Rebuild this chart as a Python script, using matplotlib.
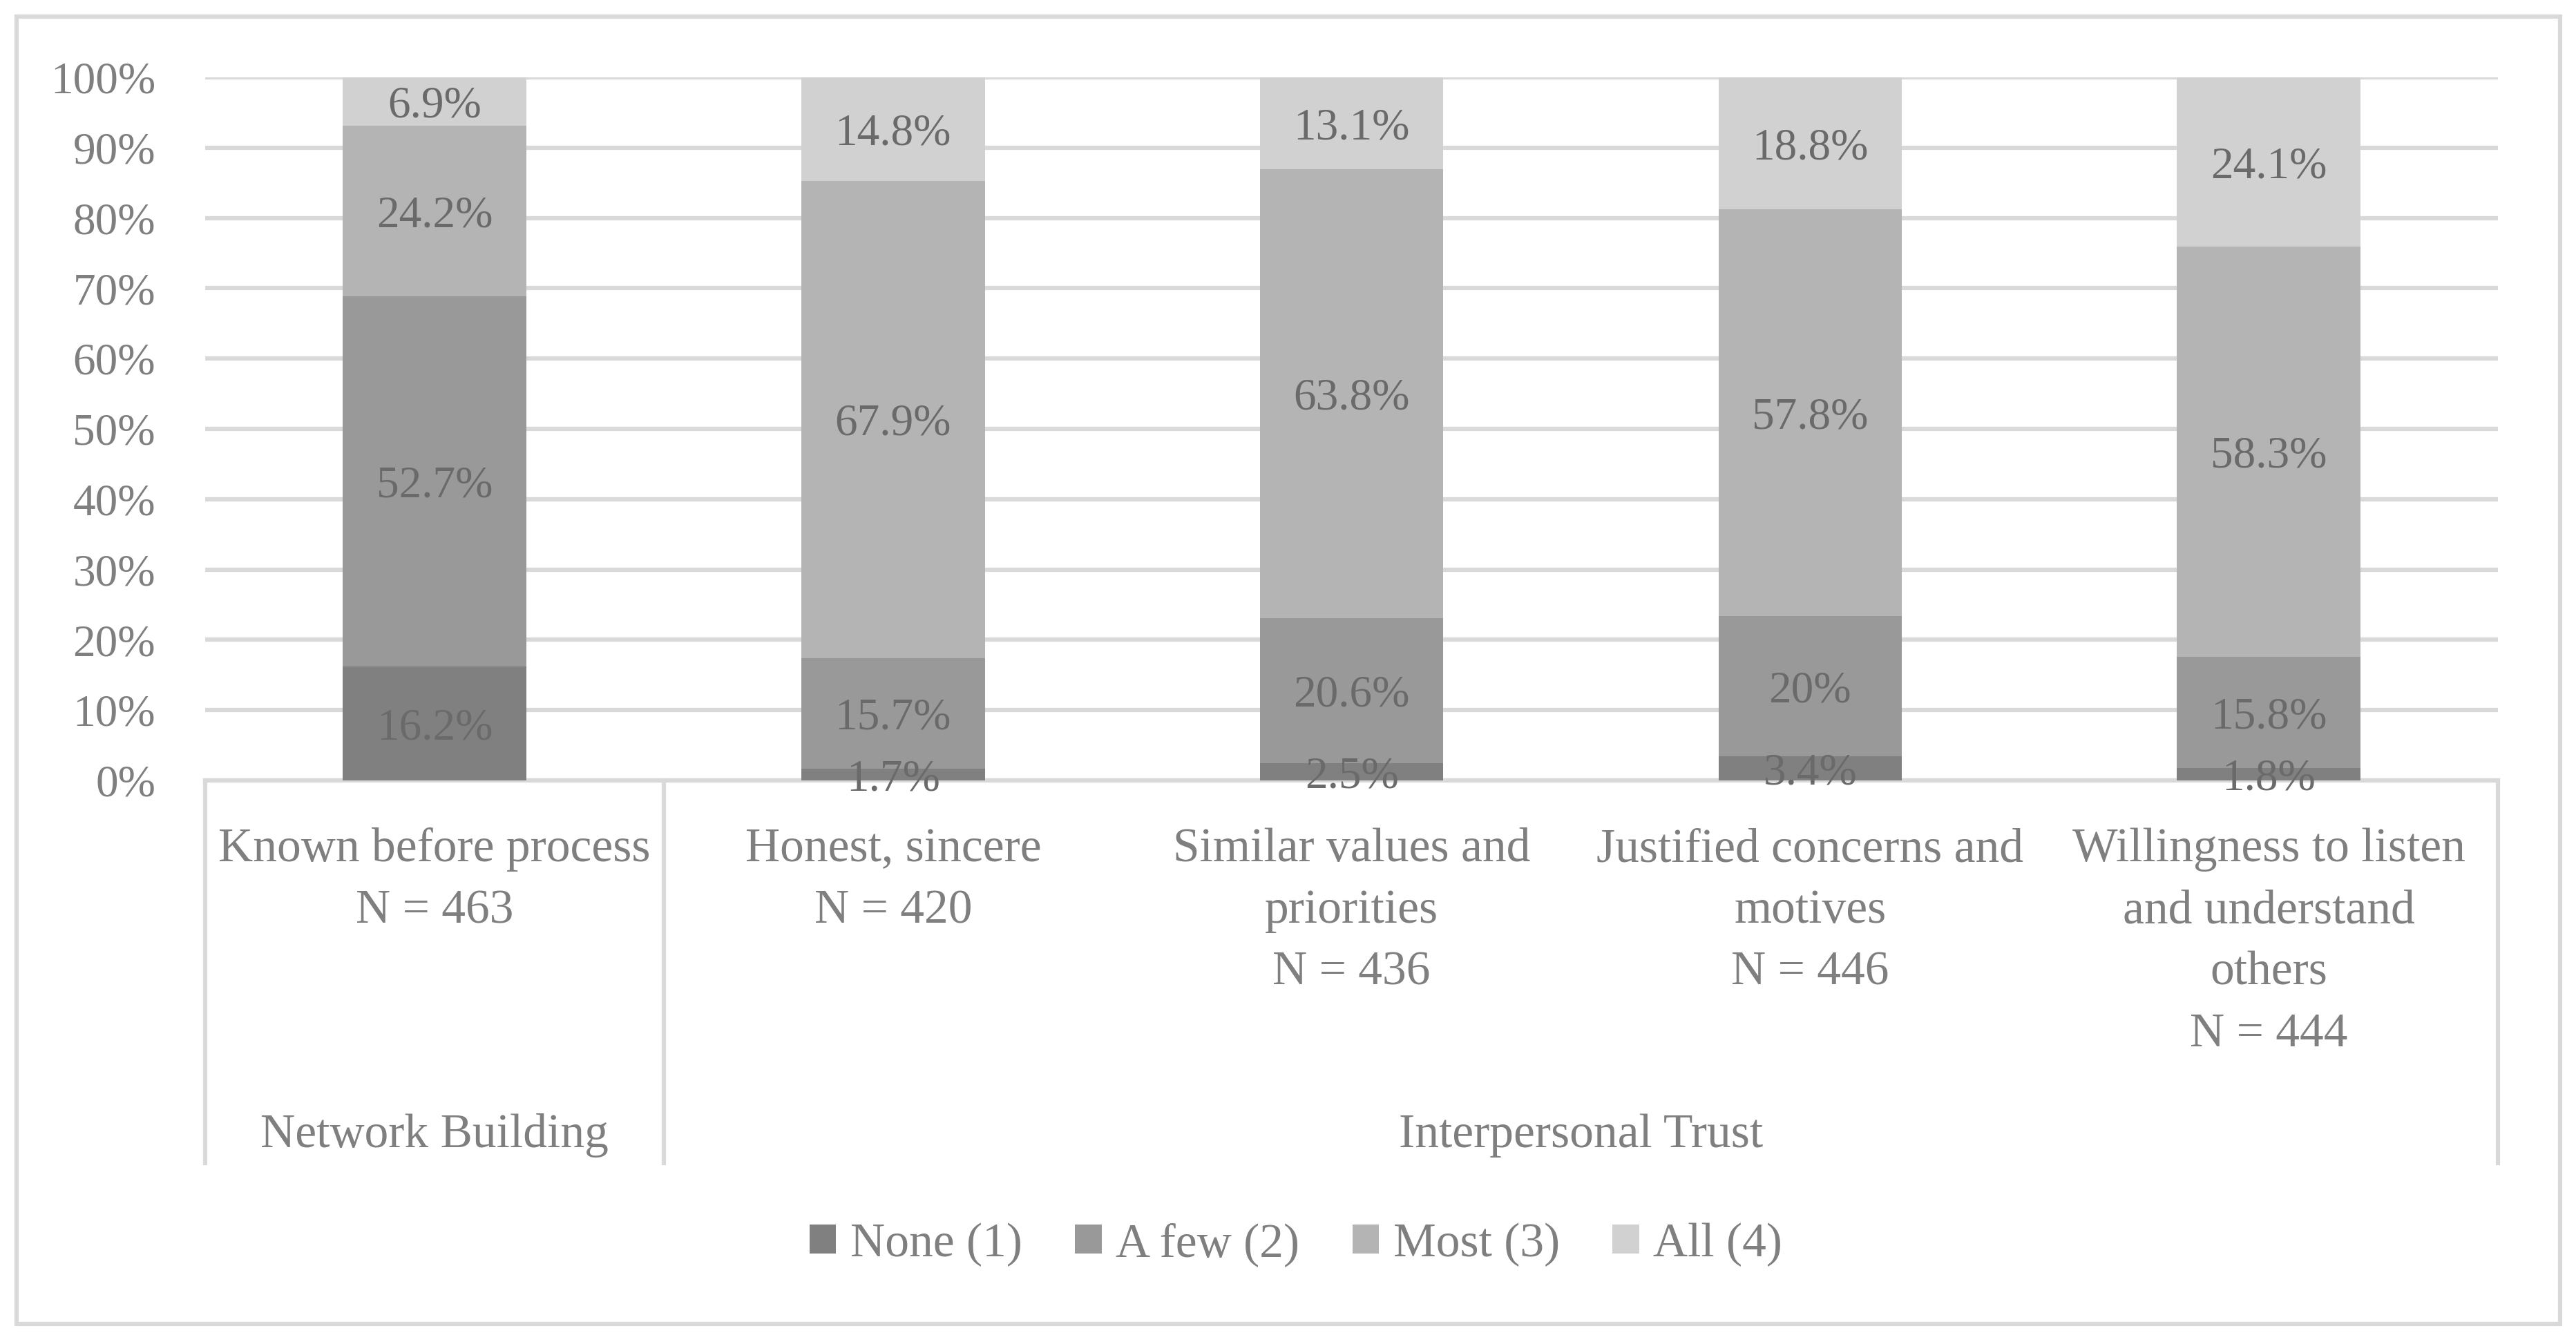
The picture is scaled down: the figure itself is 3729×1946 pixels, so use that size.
import matplotlib
matplotlib.use('Agg')
import matplotlib.pyplot as plt
import matplotlib.transforms as mtransforms
from matplotlib.patches import Rectangle
from matplotlib.lines import Line2D

plt.rcParams['font.family'] = ['Liberation Serif', 'DejaVu Serif']

# === data ===
categories = [
    ['Known before process', 'N = 463'],
    ['Honest, sincere', 'N = 420'],
    ['Similar values and', 'priorities', 'N = 436'],
    ['Justified concerns and', 'motives', 'N = 446'],
    ['Willingness to listen', 'and understand', 'others', 'N = 444'],
]
groups = ['Network Building', 'Interpersonal Trust']
group_span = [(0, 0), (1, 4)]
series_names = ['None (1)', 'A few (2)', 'Most (3)', 'All (4)']
none_vals = [16.2, 1.7, 2.5, 3.4, 1.8]
few_vals = [52.7, 15.7, 20.6, 20.0, 15.8]
most_vals = [24.2, 67.9, 63.8, 57.8, 58.3]
all_vals = [6.9, 14.8, 13.1, 18.8, 24.1]
series = [none_vals, few_vals, most_vals, all_vals]
colors = ['#808080', '#999999', '#b4b4b4', '#d1d1d1']

FS = 47      # numbers
FS_T = 50    # words
TXT = '#7f7f7f'
LBL = '#6a6a6a'
GRID = '#d9d9d9'
LW = 4.5

fig = plt.figure(figsize=(37.3, 19.46), dpi=100)
ax = fig.add_axes([0.0797, 0.4193, 0.8897, 0.5232])

# outer frame
fig.patches.append(Rectangle((0.0064, 0.0147), 0.9872, 0.9731, transform=fig.transFigure,
                             fill=False, edgecolor=GRID, linewidth=LW))

x = list(range(len(categories)))
bottom = [0.0] * len(x)
for vals, name, col in zip(series, series_names, colors):
    bars = ax.bar(x, vals, width=0.4, bottom=bottom, color=col, label=name, zorder=2)
    texts = ax.bar_label(bars, labels=[f'{v:g}%' for v in vals], label_type='center',
                         fontsize=FS, color=LBL, zorder=3)
    for t in texts:
        t.set_va('center_baseline')
    bottom = [b + v for b, v in zip(bottom, vals)]

ax.set_xlim(-0.5, len(x) - 0.5)
ax.set_ylim(0, 100)
ax.set_yticks(range(0, 101, 10))
ax.set_yticklabels([f'{t}%' for t in range(0, 101, 10)])
ax.tick_params(axis='y', length=0, pad=52, labelsize=FS, labelcolor=TXT)
ax.set_xticks([])
ax.grid(axis='y', color=GRID, linewidth=LW, zorder=0)
ax.set_axisbelow(True)
for s in ax.spines.values():
    s.set_visible(False)
ax.axhline(0, color=GRID, linewidth=LW, zorder=1, clip_on=False)

# multi-level category axis
trans = mtransforms.blended_transform_factory(ax.transData, ax.transAxes)
line_y0 = -0.0985
line_dy = 0.0876
for i, lines in enumerate(categories):
    for j, t in enumerate(lines):
        ax.text(i, line_y0 - j * line_dy, t, transform=trans, ha='center', va='center',
                fontsize=FS_T, color=TXT)

for (a, b), g in zip(group_span, groups):
    ax.text((a + b) / 2, -0.505, g, transform=trans, ha='center', va='center',
            fontsize=FS_T, color=TXT)

for xs in [-0.5, 0.5, len(x) - 0.5]:
    ax.add_line(Line2D([xs, xs], [0, -0.544], transform=trans, color=GRID,
                       linewidth=LW, clip_on=False))

leg = fig.legend(loc='center', bbox_to_anchor=(0.503, 0.074), ncol=4, frameon=False,
                 fontsize=FS_T, labelcolor=TXT, handlelength=0.55, handleheight=0.55,
                 handletextpad=0.3, columnspacing=1.1)

fig.savefig('out.png', dpi=100)
